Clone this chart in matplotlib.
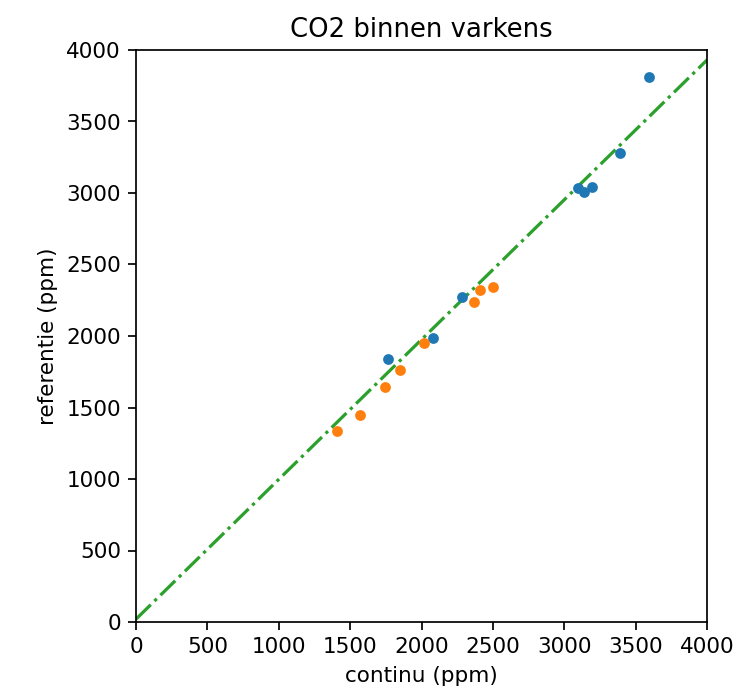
import numpy as np
import matplotlib
matplotlib.use('Agg')
import matplotlib.pyplot as plt

# blue series
x_blue = [1765, 2080, 2285, 3098, 3140, 3197, 3391, 3596]
y_blue = [1839, 1988, 2272, 3033, 3005, 3040, 3277, 3813]

# orange series
x_orange = [1406, 1569, 1744, 1849, 2017, 2370, 2407, 2503]
y_orange = [1336, 1448, 1641, 1760, 1953, 2236, 2322, 2345]

# fitted line
slope = 0.9775
intercept = 20

DPI = 155
fig = plt.figure(figsize=(753 / DPI, 693 / DPI), dpi=DPI)
ax = fig.add_axes([136 / 753, 1 - 622 / 693, (707 - 136) / 753, (622 - 50) / 693])

ax.scatter(x_blue, y_blue, s=16, color='C0', zorder=3)
ax.scatter(x_orange, y_orange, s=16, color='C1', zorder=3)

xl = np.array([0, 4000])
ax.plot(xl, slope * xl + intercept, '-.', color='C2')

ax.set_xlim(0, 4000)
ax.set_ylim(0, 4000)
ax.set_xticks(range(0, 4001, 500))
ax.set_yticks(range(0, 4001, 500))
ax.set_xlabel('continu (ppm)')
ax.set_ylabel('referentie (ppm)')
ax.set_title('CO2 binnen varkens')

fig.savefig('out.png', dpi=DPI)
